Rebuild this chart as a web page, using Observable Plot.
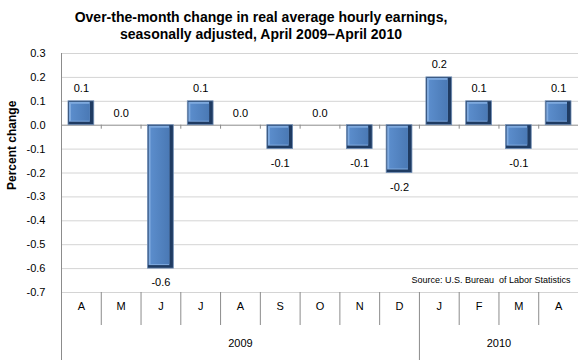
<!DOCTYPE html>
<html>
<head>
<meta charset="utf-8">
<script src="https://cdn.jsdelivr.net/npm/d3@7"></script>
<script src="https://cdn.jsdelivr.net/npm/@observablehq/plot@0.6"></script>
<style>
  body { margin: 0; background: #fff; }
  #wrap { position: relative; width: 580px; height: 360px; font-family: "Liberation Sans", Arial, sans-serif; }
  #title { position: absolute; top: 9px; left: 0; width: 522px; text-align: center; font-weight: bold; font-size: 14px; line-height: 17px; color: #000; }
</style>
</head>
<body>
<div id="wrap">
  <div id="chart"></div>
  <div id="title">Over-the-month change in real average hourly earnings,<br>seasonally adjusted, April 2009–April 2010</div>
</div>
<script>
const months = ["A","M","J","J","A","S","O","N","D","J","F","M","A"];
const values = [0.1, 0.0, -0.6, 0.1, 0.0, -0.1, 0.0, -0.1, -0.2, 0.2, 0.1, -0.1, 0.1];
const years = ["2009", "2010"];
const yearStart = [0, 9];
const yearEnd = [9, 13];
const yTicks = [-0.7, -0.6, -0.5, -0.4, -0.3, -0.2, -0.1, 0.0, 0.1, 0.2, 0.3];
const sourceText = "Source: U.S. Bureau  of Labor Statistics";
const yLabel = "Percent change";

const data = months.map((m, i) => ({i, m, v: values[i]}));
const bars = data.filter(d => d.v !== 0);
const bounds = d3.range(1, months.length);
const yearData = years.map((y, k) => ({y, s: yearStart[k], e: yearEnd[k]}));
const fmt = v => v.toFixed(1);
const yMin = yTicks[0];

const gridC = "#d4d4d4";
const axisC = "#8c8c8c";

const barOpts = {x1: d => d.i, x2: d => d.i + 1, y1: 0, y2: d => d.v};

const chart = Plot.plot({
  width: 580,
  height: 360,
  marginTop: 53,
  marginBottom: 68,
  marginLeft: 61,
  marginRight: 2,
  style: {fontFamily: '"Liberation Sans", Arial, sans-serif', fontSize: "11px", color: "#000", background: "#fff", overflow: "visible"},
  x: {domain: [0, months.length], axis: null},
  y: {domain: [yMin, yTicks[yTicks.length - 1]], ticks: yTicks, tickFormat: fmt, tickSize: 0, tickPadding: 16, label: null},
  marks: [
    Plot.ruleY(yTicks.filter(t => t !== 0), {stroke: gridC, strokeWidth: 1}),
    Plot.ruleY([0], {stroke: axisC, strokeWidth: 1}),
    Plot.ruleX(bounds, {x: d => d, y1: 0, y2: 0, insetBottom: -4, stroke: axisC}),
    // left axis line and its extension
    Plot.ruleX([0], {stroke: axisC}),
    Plot.ruleX(yearStart, {x: d => d, y1: yMin, y2: yMin, insetBottom: -68, stroke: axisC}),
    Plot.ruleX(bounds.filter(b => !yearStart.includes(b)), {x: d => d, y1: yMin, y2: yMin, insetBottom: -33, stroke: axisC}),
    // bars with bevel
    Plot.rectY(bars, {...barOpts, insetLeft: 7, insetRight: 7, fill: "#1f3b62", stroke: "#6f8db5", strokeWidth: 0.8}),
    Plot.rectY(bars, {...barOpts, insetLeft: 8, insetRight: 11, insetTop: 1, insetBottom: 3, fill: "#7ea9de"}),
    Plot.rectY(bars, {...barOpts, insetLeft: 10, insetRight: 11, insetTop: 3, insetBottom: 4, fill: "url(#barGrad)"}),
    // value labels
    Plot.text(data.filter(d => d.v > 0), {x: d => d.i + 0.5, y: d => d.v, text: d => fmt(d.v), dy: -13, lineAnchor: "middle", fill: "#000"}),
    Plot.text(data.filter(d => d.v === 0), {x: d => d.i + 0.5, y: d => d.v, text: d => fmt(d.v), dy: -12, lineAnchor: "middle", fill: "#000"}),
    Plot.text(data.filter(d => d.v < 0), {x: d => d.i + 0.5, y: d => d.v, text: d => fmt(d.v), dy: 14, lineAnchor: "middle", fill: "#000"}),
    // month labels
    Plot.text(data, {x: d => d.i + 0.5, y: yMin, text: "m", dy: 14, lineAnchor: "middle", fill: "#000"}),
    // year labels
    Plot.text(yearData, {x: d => (d.s + d.e) / 2, y: yMin, text: "y", dy: 51, lineAnchor: "middle", fill: "#000"}),
    // source
    Plot.text([sourceText], {frameAnchor: "bottom-right", dx: -8, dy: -12, lineAnchor: "middle", fontSize: 9, fill: "#000"}),
    // y label
    Plot.text([yLabel], {frameAnchor: "left", rotate: -90, dx: -49, dy: 17, fontWeight: "bold", fontSize: 12, fill: "#000", lineAnchor: "middle"})
  ]
});

// gradient definition for bar face
const svg = d3.select(chart);
const defs = svg.insert("defs", ":first-child");
const g = defs.append("linearGradient").attr("id", "barGrad").attr("x1", 0).attr("x2", 1).attr("y1", 0).attr("y2", 0);
g.append("stop").attr("offset", "0%").attr("stop-color", "#5b8dcc");
g.append("stop").attr("offset", "100%").attr("stop-color", "#4a79b5");

document.getElementById("chart").appendChild(chart);
</script>
</body>
</html>
